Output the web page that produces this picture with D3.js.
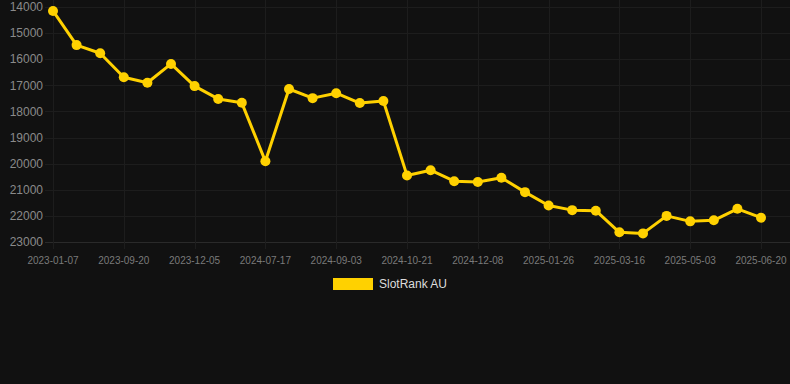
<!DOCTYPE html>
<html>
<head>
<meta charset="utf-8">
<script src="https://cdn.jsdelivr.net/npm/d3@7.9.0/dist/d3.min.js"></script>
<style>
  html, body { margin: 0; padding: 0; background: #111111; }
  svg { display: block; font-family: "Liberation Sans", Arial, sans-serif; }
</style>
</head>
<body>
<svg id="chart" width="790" height="384"></svg>
<script>
// x tick labels, shown on every 3rd point of the category axis
const tickLabels = ['2023-01-07', '2023-09-20', '2023-12-05', '2024-07-17', '2024-09-03',
  '2024-10-21', '2024-12-08', '2025-01-26', '2025-03-16', '2025-05-03', '2025-06-20'];

// rank values (one point per category)
const rankValues = [14150, 15460, 15770, 16690, 16900, 16180, 17030, 17520, 17670, 19910,
  17140, 17490, 17300, 17680, 17600, 20450, 20250, 20670, 20700, 20540,
  21090, 21600, 21780, 21800, 22630, 22670, 22000, 22210, 22170, 21730, 22070];

const yTicks = [14000, 15000, 16000, 17000, 18000, 19000, 20000, 21000, 22000, 23000];
const seriesName = 'SlotRank AU';

const lineColor = '#FFD100';
const gridColor = '#1d1d1d';

const svg = d3.select('#chart');
const width = 790;

const x = d3.scalePoint()
  .domain(d3.range(rankValues.length))
  .range([53, 761]);

const y = d3.scaleLinear()
  .domain([14000, 23000])
  .range([7, 242]);

// horizontal grid (bottom one is the axis line, a bit brighter)
svg.append('g')
  .selectAll('line')
  .data(yTicks)
  .join('line')
  .attr('x1', 45)
  .attr('x2', width)
  .attr('y1', d => Math.round(y(d)) + 0.5)
  .attr('y2', d => Math.round(y(d)) + 0.5)
  .attr('stroke', d => d === 23000 ? '#2a2a2a' : gridColor);

// vertical grid at shown ticks
const shown = x.domain().filter(i => i % 3 === 0);
svg.append('g')
  .selectAll('line')
  .data(shown)
  .join('line')
  .attr('x1', d => Math.round(x(d)) + 0.5)
  .attr('x2', d => Math.round(x(d)) + 0.5)
  .attr('y1', 0)
  .attr('y2', 249)
  .attr('stroke', gridColor);

// y axis labels
svg.append('g')
  .selectAll('text')
  .data(yTicks)
  .join('text')
  .attr('x', 43)
  .attr('y', d => y(d))
  .attr('dy', '0.35em')
  .attr('text-anchor', 'end')
  .attr('fill', '#8a8a8a')
  .attr('font-size', 12)
  .text(d => d);

// x axis labels
svg.append('g')
  .selectAll('text')
  .data(shown)
  .join('text')
  .attr('x', d => x(d))
  .attr('y', 260)
  .attr('dy', '0.35em')
  .attr('text-anchor', 'middle')
  .attr('fill', '#7a7a7a')
  .attr('font-size', 10)
  .text((d, i) => tickLabels[i]);

// line
const line = d3.line()
  .x((d, i) => x(i))
  .y(d => y(d));

svg.append('path')
  .datum(rankValues)
  .attr('d', line)
  .attr('fill', 'none')
  .attr('stroke', lineColor)
  .attr('stroke-width', 3)
  .attr('stroke-linejoin', 'round');

svg.append('g')
  .selectAll('circle')
  .data(rankValues)
  .join('circle')
  .attr('cx', (d, i) => x(i))
  .attr('cy', d => y(d))
  .attr('r', 5)
  .attr('fill', lineColor);

// legend
const legend = svg.append('g');
legend.append('rect')
  .attr('x', 333)
  .attr('y', 278)
  .attr('width', 40)
  .attr('height', 12)
  .attr('fill', lineColor);
legend.append('text')
  .attr('x', 379)
  .attr('y', 284)
  .attr('dy', '0.35em')
  .attr('fill', '#dddddd')
  .attr('font-size', 12)
  .text(seriesName);
</script>
</body>
</html>
